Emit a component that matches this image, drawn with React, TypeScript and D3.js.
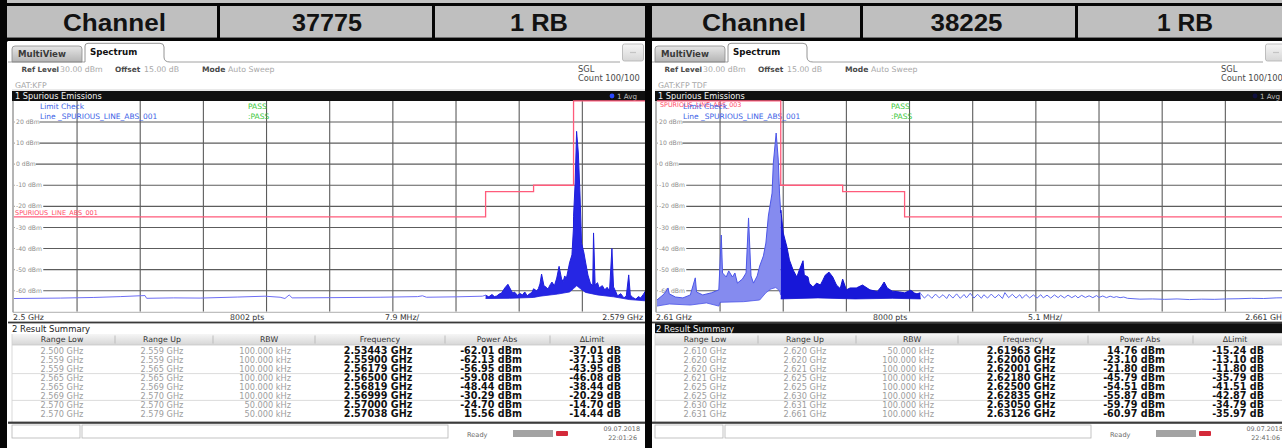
import React from 'react';
import * as d3 from 'd3';

type Pt = [number, number];

const WIDTH = 1282;
const HEIGHT = 448;
const UI = '"DejaVu Sans", Verdana, sans-serif';
const HEAD = '"Liberation Sans", Arial, sans-serif';

// Title strip cells
const headerLeft = ['Channel', '37775', '1 RB'];
const headerRight = ['Channel', '38225', '1 RB'];

// Level axis (dBm)
const levelTicks = [20, 10, 0, -10, -20, -30, -40, -50, -60];
const levelRange: [number, number] = [-70, 30];

const summaryColumns = ['Range Low', 'Range Up', 'RBW', 'Frequency', 'Power Abs', 'ΔLimit'];

// ---------- Channel 37775 : 2.5 – 2.579 GHz ----------
const spanA: [number, number] = [2.5, 2.579];
const rangeLowA = ['2.500', '2.559', '2.559', '2.565', '2.565', '2.569', '2.570', '2.570'];
const rangeUpA = ['2.559', '2.559', '2.565', '2.565', '2.569', '2.570', '2.570', '2.579'];
const rbwA = ['100.000', '100.000', '100.000', '100.000', '100.000', '100.000', '50.000', '50.000'];
const peakFreqA = [2.53443, 2.559, 2.56179, 2.565, 2.56819, 2.56999, 2.57, 2.57038];
const peakPowerA = [-62.01, -62.13, -56.95, -59.08, -48.44, -30.29, -24.7, 15.56];
const deltaLimitA = [-37.01, -37.13, -43.95, -46.08, -38.44, -20.29, -14.7, -14.44];

// quiet part of the sweep
const floorA: Pt[] = [
  [2.5, -63.7], [2.5058, -63.5], [2.51, -63.2], [2.5133, -62.8], [2.5164, -62.3], [2.5166, -63.6],
  [2.52, -63.4], [2.5233, -63.5], [2.528, -63.0], [2.5314, -62.6], [2.5333, -63.1], [2.5339, -63.7],
  [2.5348, -63.4], [2.5395, -63.3], [2.5458, -63.1], [2.5505, -62.8], [2.5511, -62.4], [2.5516, -63.1],
  [2.5554, -62.9], [2.5586, -62.6],
];
// busy part near the carrier: top and bottom of the noise band
const bandTopA: Pt[] = [
  [2.5594, -62.9], [2.5598, -61.8], [2.5601, -62.8], [2.5604, -62.5], [2.5607, -61.6], [2.561, -61.1],
  [2.5614, -58.7], [2.5621, -59.2], [2.5624, -61.2], [2.5626, -60.6], [2.563, -62.2], [2.5633, -61.3],
  [2.5636, -62.0], [2.5639, -60.6], [2.5642, -62.4], [2.5645, -61.5], [2.5648, -60.8], [2.5654, -60.1],
  [2.5656, -59.0], [2.5658, -56.8], [2.566, -52.1], [2.5663, -57.7], [2.5666, -58.4], [2.5668, -59.2],
  [2.5671, -57.0], [2.5673, -55.9], [2.5676, -57.7], [2.5679, -54.0], [2.5685, -54.4], [2.5687, -55.6],
  [2.5689, -53.0], [2.5691, -54.2], [2.5693, -50.6], [2.5695, -46.8], [2.5698, -43.0], [2.5702, -8.9],
  [2.5706, 5.3], [2.5708, -13.7], [2.571, -37.4], [2.5713, -42.1], [2.5715, -46.4], [2.5718, -52.6],
  [2.5721, -56.4], [2.5724, -57.7], [2.5725, -32.6], [2.5727, -57.3], [2.573, -56.2], [2.5732, -58.7],
  [2.5736, -57.6], [2.5739, -59.6], [2.5742, -58.4], [2.5745, -60.1], [2.5748, -40.0], [2.575, -58.2],
  [2.5753, -60.6], [2.5755, -62.5], [2.5759, -61.4], [2.5763, -63.4], [2.5766, -62.5], [2.5769, -52.5],
  [2.5771, -62.0], [2.5774, -63.2], [2.5778, -64.0], [2.5781, -62.8], [2.5784, -63.4], [2.5787, -61.9],
  [2.579, -60.1],
];
const bandBottomA: Pt[] = [
  [2.559, -63.7], [2.562, -63.6], [2.565, -63.2], [2.5658, -62.6], [2.568, -61.6], [2.5695, -60.6],
  [2.57, -59.0], [2.5704, -57.6], [2.5709, -59.2], [2.5715, -60.8], [2.573, -62.0], [2.575, -62.9],
  [2.577, -64.2], [2.579, -64.8],
];

// ---------- Channel 38225 : 2.61 – 2.661 GHz ----------
const spanB: [number, number] = [2.61, 2.661];
const rangeLowB = ['2.610', '2.620', '2.620', '2.621', '2.625', '2.625', '2.630', '2.631'];
const rangeUpB = ['2.620', '2.620', '2.621', '2.625', '2.625', '2.630', '2.631', '2.661'];
const rbwB = ['50.000', '100.000', '100.000', '100.000', '100.000', '100.000', '100.000', '100.000'];
const peakFreqB = [2.61963, 2.62, 2.62001, 2.6218, 2.625, 2.62835, 2.6305, 2.63126];
const peakPowerB = [14.76, -23.1, -21.8, -45.79, -54.51, -55.87, -59.79, -60.97];
const deltaLimitB = [-15.24, -13.1, -11.8, -35.79, -41.51, -42.87, -34.79, -35.97];

// below the carrier (narrow RBW)
const lightTopB: Pt[] = [
  [2.61, -64.4], [2.6105, -62.0], [2.6107, -60.6], [2.6109, -58.7], [2.611, -61.5], [2.6115, -63.0],
  [2.6121, -63.4], [2.6127, -62.0], [2.6131, -53.9], [2.6132, -60.6], [2.6137, -62.0], [2.6144, -61.0],
  [2.615, -59.6], [2.6152, -33.6], [2.6153, -51.6], [2.6156, -53.5], [2.6158, -50.6], [2.6161, -53.5],
  [2.6163, -51.6], [2.6165, -56.4], [2.6169, -54.5], [2.6172, -51.6], [2.6174, -25.5], [2.6176, -53.0],
  [2.6178, -56.4], [2.6181, -53.0], [2.6183, -48.3], [2.6186, -43.5], [2.6188, -37.4], [2.619, -24.6],
  [2.6193, -13.7], [2.6194, 0.5], [2.6198, 2.0], [2.6199, -13.7],
];
const lightBottomB: Pt[] = [
  [2.61, -67.3], [2.611, -66.3], [2.6127, -66.8], [2.614, -65.8], [2.615, -67.3], [2.6151, -65.5],
  [2.617, -65.2], [2.6183, -64.4], [2.6188, -61.0], [2.6192, -59.2], [2.6196, -58.5], [2.6199, -60.0],
  [2.62, -62.0],
];
// above the carrier
const darkTopB: Pt[] = [
  [2.6202, -32.6], [2.6205, -39.3], [2.6207, -45.4], [2.621, -50.2], [2.6213, -53.5], [2.6215, -50.2],
  [2.6219, -52.6], [2.6222, -53.5], [2.6223, -56.4], [2.6226, -58.2], [2.6229, -56.4], [2.6232, -57.3],
  [2.6234, -55.0], [2.6236, -52.6], [2.6239, -51.2], [2.6242, -53.5], [2.6245, -57.3], [2.6248, -59.0],
  [2.6253, -59.6], [2.6256, -58.7], [2.6261, -58.7], [2.6266, -57.3], [2.6272, -59.6], [2.6278, -60.4],
  [2.6281, -58.2], [2.6286, -58.7], [2.629, -60.2], [2.6296, -60.6], [2.63, -61.0], [2.6308, -61.1],
  [2.631, -61.5],
];
const darkBottomB: Pt[] = [
  [2.62, -63.9], [2.623, -63.4], [2.626, -63.9], [2.629, -63.6], [2.6313, -63.9],
];
const rippleB: Pt[] = [
  [2.6313, -61.4], [2.6316, -63.5], [2.6319, -61.8], [2.6322, -63.6], [2.6325, -61.6], [2.6328, -63.4],
  [2.6331, -61.9], [2.6334, -63.7], [2.6336, -61.7], [2.6339, -63.5], [2.6342, -61.5], [2.6345, -63.6],
  [2.6348, -61.8], [2.635, -63.4], [2.6353, -61.2], [2.6356, -63.5], [2.6359, -61.7], [2.6362, -63.6],
  [2.6364, -61.9], [2.6367, -63.5], [2.637, -61.6], [2.6373, -63.4], [2.6376, -61.8], [2.6379, -63.7],
  [2.6381, -60.9], [2.6384, -63.3], [2.6387, -61.7], [2.639, -63.5], [2.6393, -61.9], [2.6395, -63.6],
  [2.6398, -61.8], [2.6401, -63.4], [2.6404, -62.0], [2.6407, -63.5], [2.641, -61.9], [2.6412, -63.4],
  [2.6415, -62.1], [2.6418, -63.5], [2.6421, -62.0], [2.6424, -63.3], [2.6426, -62.2], [2.6429, -63.4],
  [2.6432, -62.1], [2.6435, -63.3], [2.6438, -62.3], [2.644, -63.4], [2.6443, -62.2], [2.6446, -63.2],
  [2.6449, -62.4], [2.6452, -63.3], [2.6455, -62.3], [2.6457, -63.2], [2.646, -62.5], [2.6463, -63.3],
  [2.6466, -62.6], [2.6469, -63.2], [2.6471, -62.8], [2.6474, -63.3], [2.6477, -63.0], [2.648, -63.6],
  [2.649, -64.0], [2.65, -63.9], [2.651, -64.1], [2.652, -63.9], [2.653, -64.2], [2.654, -64.0],
  [2.655, -64.1], [2.656, -63.9], [2.657, -63.8], [2.658, -63.6], [2.659, -63.7], [2.66, -63.4],
  [2.661, -63.3],
];

type Segment = { top: Pt[]; bottom?: Pt[]; lo: number; hi: number; fill?: string; stroke: string };

type PanelSpec = {
  id: string;
  ox: number;
  span: [number, number];
  startLabel: string;
  stopLabel: string;
  divLabel: string;
  points: string;
  gat: string;
  rangeLow: string[];
  rangeUp: string[];
  rbw: string[];
  peakFreq: number[];
  peakPower: number[];
  deltaLimit: number[];
  segments: Segment[];
  avgDot: string;
  darkSummary: boolean;
  limitName?: string;
  legendLimitTag?: string;
  date: string;
  time: string;
};

const panels: PanelSpec[] = [
  {
    id: 'a', ox: 0, span: spanA, startLabel: '2.5 GHz', stopLabel: '2.579 GHz', divLabel: '7.9 MHz/',
    points: '8002 pts', gat: 'GAT:KFP',
    rangeLow: rangeLowA, rangeUp: rangeUpA, rbw: rbwA, peakFreq: peakFreqA, peakPower: peakPowerA,
    deltaLimit: deltaLimitA,
    segments: [
      { top: floorA, lo: 2.5, hi: 2.559, stroke: '#6d6df4' },
      { top: bandTopA, bottom: bandBottomA, lo: 2.559, hi: 2.579, fill: '#2626e4', stroke: '#1f1fdc' },
    ],
    avgDot: '#2a48ff', darkSummary: false, limitName: 'SPURIOUS_LINE_ABS_001',
    date: '09.07.2018', time: '22:01:26',
  },
  {
    id: 'b', ox: 643, span: spanB, startLabel: '2.61 GHz', stopLabel: '2.661 GHz', divLabel: '5.1 MHz/',
    points: '8000 pts', gat: 'GAT:KFP TDF',
    rangeLow: rangeLowB, rangeUp: rangeUpB, rbw: rbwB, peakFreq: peakFreqB, peakPower: peakPowerB,
    deltaLimit: deltaLimitB,
    segments: [
      { top: lightTopB, bottom: lightBottomB, lo: 2.61, hi: 2.62, fill: '#858bef', stroke: '#4c56e8' },
      { top: darkTopB, bottom: darkBottomB, lo: 2.62, hi: 2.63126, fill: '#1717d8', stroke: '#1414d2' },
      { top: rippleB, lo: 2.63126, hi: 2.661, stroke: '#5f6bf0' },
    ],
    avgDot: '#101040', darkSummary: true, legendLimitTag: 'SPURIOUS_LINE_ABS_003',
    date: '09.07.2018', time: '22:41:06',
  },
];

const PLOT_TOP = 100.9;
const PLOT_BOTTOM = 311.8;

function Panel({ p }: { p: PanelSpec }) {
  const ox = p.ox;
  const x = d3.scaleLinear().domain(p.span).range([ox + 13.9, ox + 645.5]);
  const y = d3.scaleLinear().domain(levelRange).range([PLOT_BOTTOM, PLOT_TOP]);
  const line = d3.line<Pt>().x((d) => x(d[0])).y((d) => y(d[1]));
  const peaks: Pt[] = p.peakFreq.map((f, i) => [f, p.peakPower[i]] as Pt);
  const withPeaks = (pts: Pt[], lo: number, hi: number): Pt[] =>
    [...pts, ...peaks.filter(([f]) => f >= lo && f <= hi)].sort((a, b) => a[0] - b[0]);
  const limit: Pt[] = p.rangeLow.flatMap((l, i) => {
    const lim = Math.round(p.peakPower[i] - p.deltaLimit[i]);
    return [[+l, lim], [+p.rangeUp[i], lim]] as Pt[];
  });
  const gridFreqs = d3.range(1, 11).map((i) => p.span[0] + ((p.span[1] - p.span[0]) * i) / 10);
  const clipId = `plot-clip-${p.id}`;
  const rowY = (i: number) => 353.5 + 9.05 * i;
  const grey = { fontFamily: UI, fontSize: 8.2, fill: '#9d9d9d' };
  const bold = { fontFamily: UI, fontSize: 9.6, fontWeight: 700, fill: '#111' };
  const info = { fontFamily: UI, fontSize: 7.8 };
  const sepX = [115, 213, 315, 445, 550];
  const colX = [62, 162, 269, 380, 497, 592];

  return (
    <g>
      <defs>
        <clipPath id={clipId}>
          <rect x={ox + 13.5} y={PLOT_TOP - 1} width={632} height={PLOT_BOTTOM - PLOT_TOP + 1} />
        </clipPath>
        <linearGradient id={`tabg-${p.id}`} x1="0" y1="0" x2="0" y2="1">
          <stop offset="0" stopColor="#e6e6e6" />
          <stop offset="1" stopColor="#b4b4b4" />
        </linearGradient>
        <linearGradient id={`hdr-${p.id}`} x1="0" y1="0" x2="0" y2="1">
          <stop offset="0" stopColor="#f6f6f6" />
          <stop offset="1" stopColor="#d6d6d6" />
        </linearGradient>
      </defs>

      {/* window background */}
      <rect x={ox + 8} y={41} width={637} height={407} fill="#ffffff" />

      {/* tabs */}
      <path
        d={`M${ox + 12},62 L${ox + 12},49 Q${ox + 12},46 ${ox + 15},46 L${ox + 79},46 Q${ox + 82},46 ${ox + 82},49 L${ox + 82},62 Z`}
        fill={`url(#tabg-${p.id})`} stroke="#8a8a8a" strokeWidth={0.8}
      />
      <text x={ox + 18} y={56.7} style={{ fontFamily: UI, fontSize: 8.6, fontWeight: 700, fill: '#3a3a3a' }}>MultiView</text>
      <line x1={ox + 8} x2={ox + 85} y1={62} y2={62} stroke="#8a8a8a" strokeWidth={0.8} />
      <path
        d={`M${ox + 85},62 L${ox + 85},46 Q${ox + 85},43.3 ${ox + 88},43.3 L${ox + 160},43.3 Q${ox + 164},43.3 ${ox + 164},47 L${ox + 164},57 Q${ox + 164},62 ${ox + 170},62`}
        fill="#ffffff" stroke="#7a7a7a" strokeWidth={0.8}
      />
      <text x={ox + 90} y={55} style={{ fontFamily: UI, fontSize: 8.7, fontWeight: 700, fill: '#111' }}>Spectrum</text>
      <line x1={ox + 170} x2={ox + 620} y1={62} y2={62} stroke="#8a8a8a" strokeWidth={0.8} />
      <rect x={ox + 622.5} y={44} width={21} height={17} rx={2} fill={`url(#hdr-${p.id})`} stroke="#b0b0b0" strokeWidth={0.8} />
      <line x1={ox + 630} x2={ox + 636} y1={52.5} y2={52.5} stroke="#c4c4c4" strokeWidth={1.2} />

      {/* setup line */}
      <text x={ox + 21.5} y={71.5} style={{ ...info, fontSize: 7.2, fontWeight: 700, fill: '#4a4a4a' }}>Ref Level</text>
      <text x={ox + 60} y={71.5} style={{ ...info, fill: '#a8a8a8' }}>30.00 dBm</text>
      <text x={ox + 115} y={71.5} style={{ ...info, fontSize: 7.4, fontWeight: 700, fill: '#4a4a4a' }}>Offset</text>
      <text x={ox + 144} y={71.5} style={{ ...info, fill: '#a8a8a8' }}>15.00 dB</text>
      <text x={ox + 202} y={71.5} style={{ ...info, fontSize: 7.6, fontWeight: 700, fill: '#4a4a4a' }}>Mode</text>
      <text x={ox + 228} y={71.5} style={{ ...info, fill: '#a8a8a8' }}>Auto Sweep</text>
      <text x={ox + 578} y={71.5} style={{ ...info, fontSize: 8.3, fill: '#4a4a4a' }}>SGL</text>
      <text x={ox + 578} y={80.8} style={{ ...info, fontSize: 8.3, fill: '#4a4a4a' }}>Count 100/100</text>
      <text x={ox + 15} y={87.6} style={{ ...info, fill: '#a8a8a8' }}>{p.gat}</text>
      <line x1={ox + 12} x2={ox + 645} y1={90} y2={90} stroke="#c8c8c8" strokeWidth={0.8} />

      {/* window title bar */}
      <rect x={ox + 12} y={91} width={633} height={10} fill="#101010" />
      <text x={ox + 15} y={99} style={{ fontFamily: UI, fontSize: 8.2, fill: '#f2f2f2' }}>1 Spurious Emissions</text>
      <circle cx={ox + 612} cy={96} r={2.4} fill={p.avgDot} />
      <text x={ox + 617} y={99} style={{ fontFamily: UI, fontSize: 7.2, fill: '#bdbdbd' }}>1 Avg</text>

      {/* plot */}
      <g clipPath={`url(#${clipId})`}>
        {gridFreqs.map((f) => (
          <line key={`v${f}`} x1={x(f)} x2={x(f)} y1={PLOT_TOP} y2={PLOT_BOTTOM} stroke="#5c5c5c" strokeWidth={1.1} />
        ))}
        {levelTicks.map((v) => (
          <line key={`h${v}`} x1={ox + 14} x2={ox + 646} y1={y(v)} y2={y(v)} stroke="#5c5c5c" strokeWidth={1.1} />
        ))}
        {levelTicks.map((v) => {
          const label = `${v} dBm`;
          return (
            <g key={`l${v}`}>
              <rect x={ox + 14.5} y={y(v) - 3.2} width={label.length * 3.75 + 2.5} height={6.4} fill="#ffffff" />
              <text x={ox + 16} y={y(v) + 2.1} style={{ fontFamily: UI, fontSize: 6.1, fill: '#8c8c8c' }}>{label}</text>
            </g>
          );
        })}

        {/* legend */}
        {p.legendLimitTag && (
          <text x={ox + 17} y={107.4} style={{ fontFamily: UI, fontSize: 6.4, fill: '#ff4a68' }}>{p.legendLimitTag}</text>
        )}
        <text x={ox + 40} y={108.8} style={{ fontFamily: UI, fontSize: 7.5, fill: '#3d5fe6' }}>Limit Check</text>
        <text x={ox + 248} y={108.8} style={{ fontFamily: UI, fontSize: 7.5, fill: '#38c838' }}>PASS</text>
        <text x={ox + 40} y={118.8} style={{ fontFamily: UI, fontSize: 7.5, fill: '#3d5fe6' }}>Line _SPURIOUS_LINE_ABS_001</text>
        <text x={ox + 248} y={118.8} style={{ fontFamily: UI, fontSize: 7.5, fill: '#38c838' }}>:PASS</text>
        {p.limitName && (
          <text x={ox + 15} y={y(-25) - 1.4} style={{ fontFamily: UI, fontSize: 6.5, fill: '#ff4a68' }}>{p.limitName}</text>
        )}

        {/* trace */}
        {p.segments.map((s, i) => {
          const top = withPeaks(s.top, s.lo, s.hi);
          if (s.bottom) {
            const outline = [...top, ...[...s.bottom].reverse()];
            return (
              <g key={`s${i}`}>
                <path d={(line(outline) ?? '') + 'Z'} fill={s.fill} stroke="none" />
                <path d={line(top) ?? ''} fill="none" stroke={s.stroke} strokeWidth={1} />
                <path d={line(s.bottom) ?? ''} fill="none" stroke={s.stroke} strokeWidth={0.8} />
              </g>
            );
          }
          return <path key={`s${i}`} d={line(top) ?? ''} fill="none" stroke={s.stroke} strokeWidth={1} />;
        })}

        {/* limit line */}
        <path d={line(limit) ?? ''} fill="none" stroke="#ff5b7b" strokeWidth={1.3} />
      </g>
      <line x1={ox + 13} x2={ox + 13} y1={PLOT_TOP} y2={PLOT_BOTTOM + 0.5} stroke="#6a6a6a" strokeWidth={1} />
      <line x1={ox + 13} x2={ox + 645} y1={PLOT_BOTTOM + 0.5} y2={PLOT_BOTTOM + 0.5} stroke="#9a9a9a" strokeWidth={0.8} />

      {/* frequency row */}
      <text x={ox + 13} y={319.6} style={{ ...info, fill: '#333' }}>{p.startLabel}</text>
      <text x={ox + 230} y={319.6} style={{ ...info, fill: '#333' }}>{p.points}</text>
      <text x={ox + 385} y={319.6} style={{ ...info, fill: '#333' }}>{p.divLabel}</text>
      <text x={ox + 643} y={319.6} textAnchor="end" style={{ ...info, fill: '#333' }}>{p.stopLabel}</text>
      <rect x={ox + 8} y={321.6} width={637} height={1.8} fill="#3a3a3a" />

      {/* result summary */}
      {p.darkSummary ? (
        <>
          <rect x={ox + 12} y={323.2} width={633} height={10} fill="#101010" />
          <text x={ox + 13} y={331.6} style={{ fontFamily: UI, fontSize: 8.5, fill: '#f2f2f2' }}>2 Result Summary</text>
        </>
      ) : (
        <text x={ox + 12} y={331.6} style={{ fontFamily: UI, fontSize: 8.5, fill: '#222' }}>2 Result Summary</text>
      )}
      <rect x={ox + 12} y={334} width={633} height={11} fill={`url(#hdr-${p.id})`} />
      <line x1={ox + 12} x2={ox + 645} y1={345} y2={345} stroke="#c8c8c8" strokeWidth={0.8} />
      {summaryColumns.map((c, i) => (
        <text key={c} x={ox + colX[i]} y={342.3} textAnchor="middle" style={{ fontFamily: UI, fontSize: 7.8, fill: '#333' }}>{c}</text>
      ))}
      {sepX.map((sx) => (
        <line key={sx} x1={ox + sx} x2={ox + sx} y1={335.5} y2={343.5} stroke="#b8b8b8" strokeWidth={0.9} />
      ))}
      <line x1={ox + 12} x2={ox + 12} y1={334} y2={422} stroke="#cfcfcf" strokeWidth={0.8} />
      {[373.6, 400.4].map((ly) => (
        <line key={ly} x1={ox + 12} x2={ox + 645} y1={ly} y2={ly} stroke="#d2d2d2" strokeWidth={0.8} />
      ))}
      {p.rangeLow.map((v, i) => (
        <g key={`r${i}`}>
          <text x={ox + 62} y={rowY(i)} textAnchor="middle" style={grey}>{v} GHz</text>
          <text x={ox + 162} y={rowY(i)} textAnchor="middle" style={grey}>{p.rangeUp[i]} GHz</text>
          <text x={ox + 291} y={rowY(i)} textAnchor="end" style={grey}>{p.rbw[i]} kHz</text>
          <text x={ox + 378} y={rowY(i)} textAnchor="middle" style={bold}>{p.peakFreq[i].toFixed(5)} GHz</text>
          <text x={ox + 522} y={rowY(i)} textAnchor="end" style={bold}>{p.peakPower[i].toFixed(2)} dBm</text>
          <text x={ox + 621} y={rowY(i)} textAnchor="end" style={bold}>{p.deltaLimit[i].toFixed(2)} dB</text>
        </g>
      ))}
      <rect x={ox + 8} y={421.6} width={637} height={2.2} fill="#3c3c3c" />

      {/* status bar */}
      <rect x={ox + 12} y={425} width={68} height={13} fill="#ffffff" stroke="#b4b4b4" strokeWidth={0.8} />
      <rect x={ox + 82} y={425} width={366} height={13} fill="#ffffff" stroke="#b4b4b4" strokeWidth={0.8} />
      <text x={ox + 467} y={436.6} style={{ fontFamily: UI, fontSize: 6.6, fill: '#6a6a6a' }}>Ready</text>
      <rect x={ox + 513} y={430} width={40} height={7} fill="#a3a3a3" />
      <rect x={ox + 556} y={431} width={12} height={5} rx={1} fill="#d42a3a" />
      <text x={ox + 640} y={431} textAnchor="end" style={{ fontFamily: UI, fontSize: 6.4, fill: '#6a6a6a' }}>{p.date}</text>
      <text x={ox + 637} y={440.3} textAnchor="end" style={{ fontFamily: UI, fontSize: 6.4, fill: '#6a6a6a' }}>{p.time}</text>
    </g>
  );
}

function HeaderStrip({ labels, cells, centers, widths }: { labels: string[]; cells: [number, number][]; centers: number[]; widths: number[] }) {
  return (
    <g>
      {cells.map(([a, b], i) => (
        <rect key={i} x={a} y={6} width={b - a} height={31.6} fill="#bfbfbf" />
      ))}
      {labels.map((t, i) => (
        <text key={t + i} x={centers[i]} y={31.2} textAnchor="middle" textLength={widths[i]} lengthAdjust="spacingAndGlyphs"
          style={{ fontFamily: HEAD, fontSize: 24, fontWeight: 700, fill: '#121212' }}>{t}</text>
      ))}
    </g>
  );
}

export default function App() {
  return (
    <svg width={WIDTH} height={HEIGHT} viewBox={`0 0 ${WIDTH} ${HEIGHT}`}
      style={{ position: 'absolute', left: 0, top: 0, display: 'block' }}>
      <rect x={0} y={0} width={WIDTH} height={HEIGHT} fill="#ffffff" />
      <rect x={0} y={0} width={WIDTH} height={3.2} fill="#c2c2c2" />
      <rect x={0} y={3} width={WIDTH} height={3.2} fill="#050505" />
      <HeaderStrip labels={headerLeft} cells={[[7, 217], [220, 432], [435, 645]]} centers={[114.5, 327, 539]} widths={[103, 70, 58]} />
      <HeaderStrip labels={headerRight} cells={[[652, 860], [863, 1075], [1078, 1282]]} centers={[754, 966.5, 1185]} widths={[104, 72, 56]} />
      <rect x={0} y={37.5} width={WIDTH} height={4} fill="#050505" />
      {[217, 432, 860, 1075].map((sx) => (
        <rect key={sx} x={sx} y={3} width={3} height={38} fill="#050505" />
      ))}

      {panels.map((p) => (
        <Panel key={p.id} p={p} />
      ))}

      {/* outer frame and middle divider */}
      <rect x={0} y={0} width={7} height={HEIGHT} fill="#050505" />
      <rect x={645} y={3} width={7} height={HEIGHT - 3} fill="#050505" />
    </svg>
  );
}
